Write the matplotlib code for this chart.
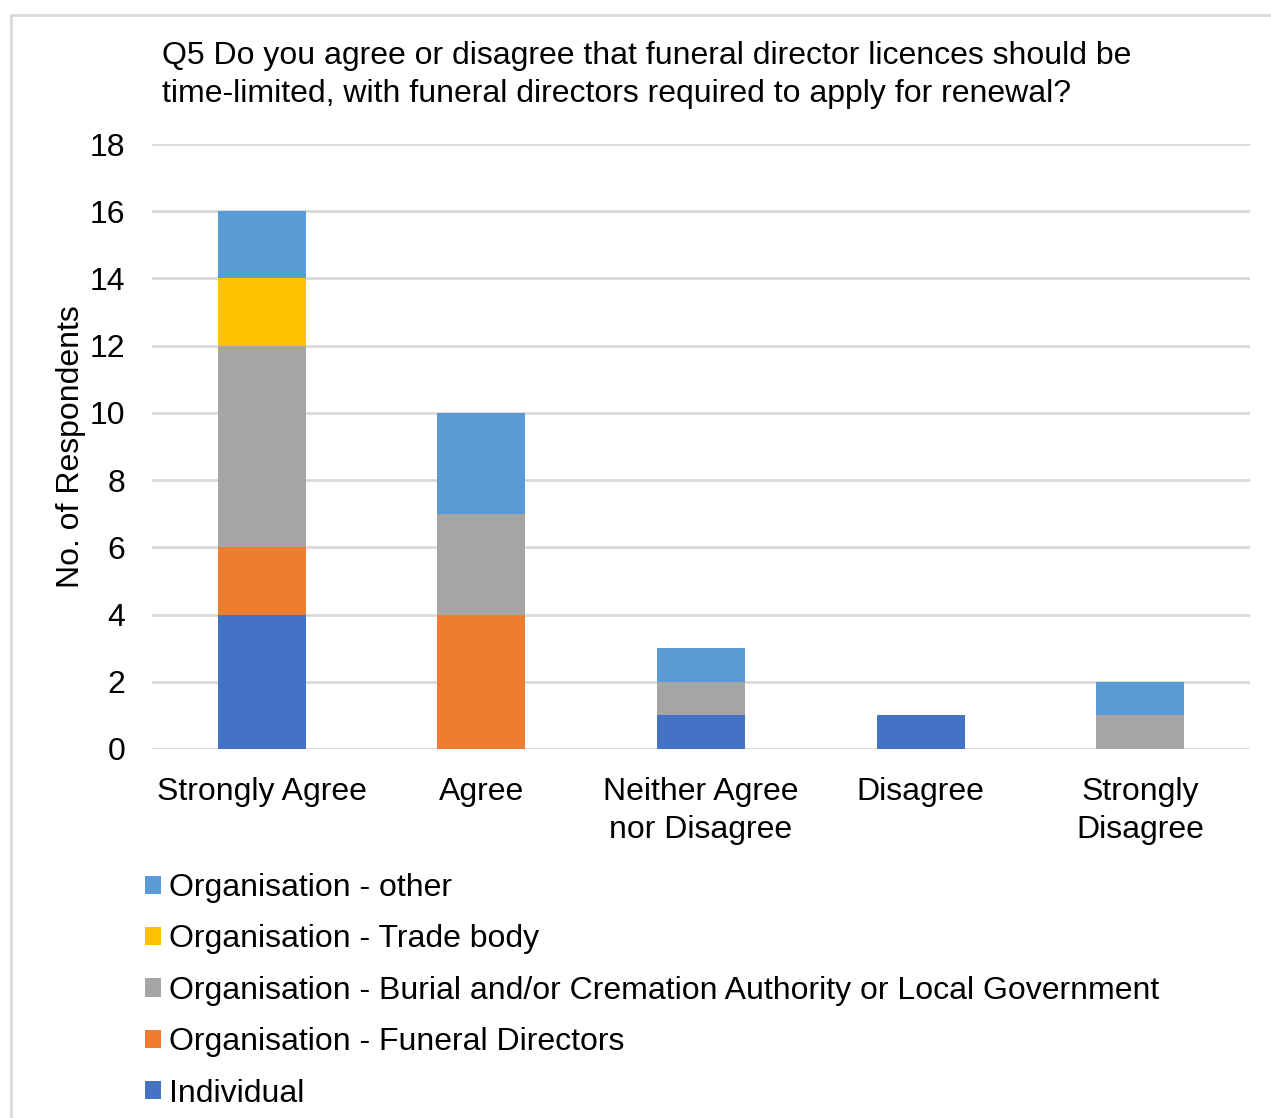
import matplotlib
matplotlib.use("Agg")
import matplotlib.pyplot as plt
from matplotlib.patches import Rectangle
import numpy as np

plt.rcParams['font.family'] = ['Liberation Sans', 'DejaVu Sans']

categories = ["Strongly Agree", "Agree", "Neither Agree\nnor Disagree", "Disagree", "Strongly\nDisagree"]
individual = [4, 0, 1, 1, 0]
funeral_directors = [2, 4, 0, 0, 0]
burial_cremation = [6, 3, 1, 0, 1]
trade_body = [2, 0, 0, 0, 0]
org_other = [2, 3, 1, 0, 1]

series_names = ["Individual", "Organisation - Funeral Directors",
                "Organisation - Burial and/or Cremation Authority or Local Government",
                "Organisation - Trade body", "Organisation - other"]
series_vals = [individual, funeral_directors, burial_cremation, trade_body, org_other]
colors = ["#4472C4", "#ED7D31", "#A5A5A5", "#FFC000", "#5B9BD5"]

FS = 23
W, H = 1271, 1118
fig = plt.figure(figsize=(W/100, H/100), dpi=100)
ax = fig.add_axes([152/W, 1-749/H, (1250-152)/W, (749-144)/H])

x = np.arange(len(categories))
bottom = np.zeros(len(categories))
handles = []
for name, vals, c in zip(series_names, series_vals, colors):
    v = np.array(vals, dtype=float)
    b = ax.bar(x, v, 0.4, bottom=bottom, color=c, label=name, zorder=3)
    handles.append(b)
    bottom += v

ax.set_xlim(-0.5, len(categories)-0.5)
ax.set_ylim(0, 18)
ax.set_yticks(range(0, 19, 2))
ax.set_xticks(x)
ax.set_xticklabels(categories, fontsize=FS, color="#000000", linespacing=1.35)
ax.tick_params(axis='y', labelsize=FS, length=0, pad=19)
ax.tick_params(axis='x', length=0, pad=20)
ax.yaxis.grid(True, color="#D9D9D9", linewidth=2, zorder=0)
for s in ax.spines.values():
    s.set_visible(False)
ax.set_ylabel("No. of Respondents", fontsize=FS, labelpad=3)

fig.text(162/W, 1-41/H, "Q5 Do you agree or disagree that funeral director licences should be\ntime-limited, with funeral directors required to apply for renewal?",
         fontsize=FS, ha='left', va='top', linespacing=1.35)

leg = fig.legend(handles[::-1], series_names[::-1], loc='upper left',
                 bbox_to_anchor=(145/W, 1-873/H), frameon=False, fontsize=FS,
                 handlelength=0.5, handleheight=0.5, handletextpad=0.25,
                 labelspacing=0.67, borderaxespad=0, borderpad=0)

fig.patches.append(Rectangle((11/W, -0.01), 1.1, 1-15/H+0.01, transform=fig.transFigure,
                             fill=False, edgecolor="#D9D9D9", linewidth=2))

fig.savefig("out.png", dpi=100)
